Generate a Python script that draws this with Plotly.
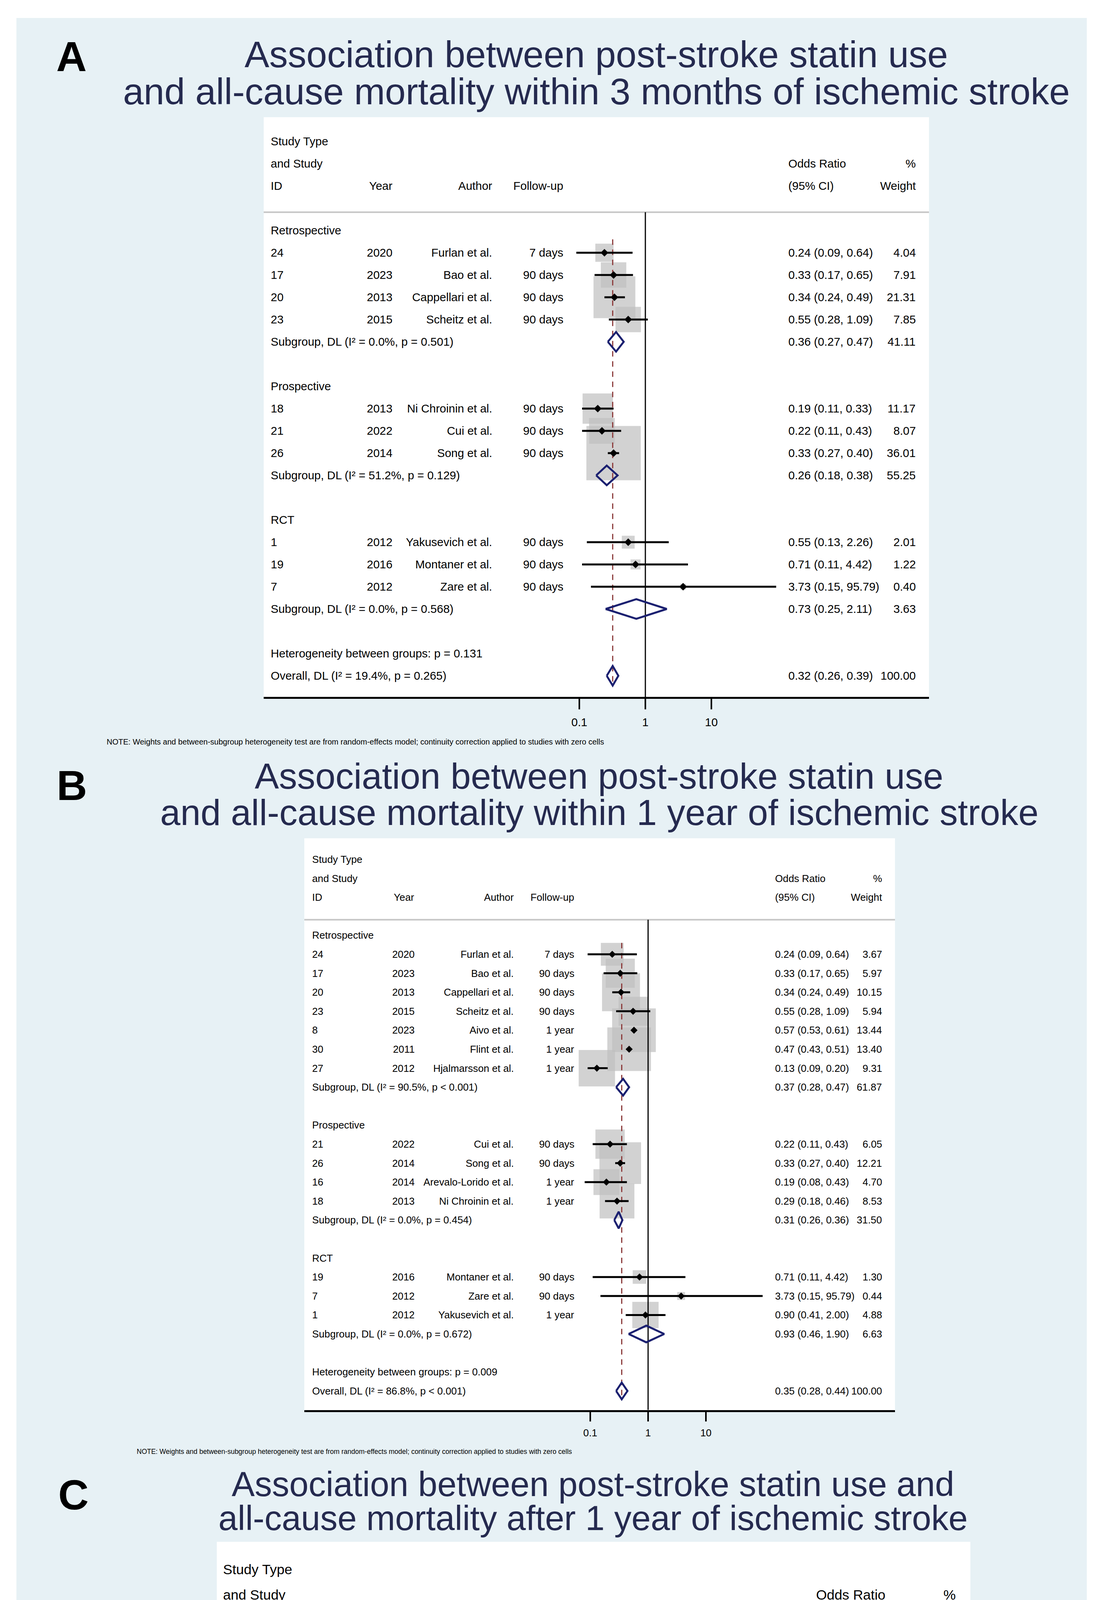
import numpy as np
import plotly.graph_objects as go

W, H = 2803, 5455

# ---------------- Panel A data ----------------
A_groups = ["Retrospective", "Prospective", "RCT"]
A_group_sizes = [4, 3, 3]
A_id = ["24", "17", "20", "23", "18", "21", "26", "1", "19", "7"]
A_year = ["2020", "2023", "2013", "2015", "2013", "2022", "2014", "2012", "2016", "2012"]
A_author = ["Furlan et al.", "Bao et al.", "Cappellari et al.", "Scheitz et al.",
            "Ni Chroinin et al.", "Cui et al.", "Song et al.",
            "Yakusevich et al.", "Montaner et al.", "Zare et al."]
A_follow = ["7 days", "90 days", "90 days", "90 days", "90 days", "90 days",
            "90 days", "90 days", "90 days", "90 days"]
A_or = [0.24, 0.33, 0.34, 0.55, 0.19, 0.22, 0.33, 0.55, 0.71, 3.73]
A_lo = [0.09, 0.17, 0.24, 0.28, 0.11, 0.11, 0.27, 0.13, 0.11, 0.15]
A_hi = [0.64, 0.65, 0.49, 1.09, 0.33, 0.43, 0.40, 2.26, 4.42, 95.79]
A_wt = [4.04, 7.91, 21.31, 7.85, 11.17, 8.07, 36.01, 2.01, 1.22, 0.40]
A_sub_label = ["Subgroup, DL (I² = 0.0%, p = 0.501)",
               "Subgroup, DL (I² = 51.2%, p = 0.129)",
               "Subgroup, DL (I² = 0.0%, p = 0.568)"]
A_sub_or = [0.36, 0.26, 0.73]
A_sub_lo = [0.27, 0.18, 0.25]
A_sub_hi = [0.47, 0.38, 2.11]
A_sub_wt = [41.11, 55.25, 3.63]
A_het = "Heterogeneity between groups: p = 0.131"
A_overall_label = "Overall, DL (I² = 19.4%, p = 0.265)"
A_overall = [0.32, 0.26, 0.39, 100.00]
A_title = ["Association between post-stroke statin use",
           "and all-cause mortality within 3 months of ischemic stroke"]
A_note = ("NOTE: Weights and between-subgroup heterogeneity test are from random-effects model; "
          "continuity correction applied to studies with zero cells")

# ---------------- Panel B data ----------------
B_groups = ["Retrospective", "Prospective", "RCT"]
B_group_sizes = [7, 4, 3]
B_id = ["24", "17", "20", "23", "8", "30", "27", "21", "26", "16", "18", "19", "7", "1"]
B_year = ["2020", "2023", "2013", "2015", "2023", "2011", "2012",
          "2022", "2014", "2014", "2013", "2016", "2012", "2012"]
B_author = ["Furlan et al.", "Bao et al.", "Cappellari et al.", "Scheitz et al.",
            "Aivo et al.", "Flint et al.", "Hjalmarsson et al.",
            "Cui et al.", "Song et al.", "Arevalo-Lorido et al.", "Ni Chroinin et al.",
            "Montaner et al.", "Zare et al.", "Yakusevich et al."]
B_follow = ["7 days", "90 days", "90 days", "90 days", "1 year", "1 year", "1 year",
            "90 days", "90 days", "1 year", "1 year", "90 days", "90 days", "1 year"]
B_or = [0.24, 0.33, 0.34, 0.55, 0.57, 0.47, 0.13, 0.22, 0.33, 0.19, 0.29, 0.71, 3.73, 0.90]
B_lo = [0.09, 0.17, 0.24, 0.28, 0.53, 0.43, 0.09, 0.11, 0.27, 0.08, 0.18, 0.11, 0.15, 0.41]
B_hi = [0.64, 0.65, 0.49, 1.09, 0.61, 0.51, 0.20, 0.43, 0.40, 0.43, 0.46, 4.42, 95.79, 2.00]
B_wt = [3.67, 5.97, 10.15, 5.94, 13.44, 13.40, 9.31, 6.05, 12.21, 4.70, 8.53, 1.30, 0.44, 4.88]
B_sub_label = ["Subgroup, DL (I² = 90.5%, p < 0.001)",
               "Subgroup, DL (I² = 0.0%, p = 0.454)",
               "Subgroup, DL (I² = 0.0%, p = 0.672)"]
B_sub_or = [0.37, 0.31, 0.93]
B_sub_lo = [0.28, 0.26, 0.46]
B_sub_hi = [0.47, 0.36, 1.90]
B_sub_wt = [61.87, 31.50, 6.63]
B_het = "Heterogeneity between groups: p = 0.009"
B_overall_label = "Overall, DL (I² = 86.8%, p < 0.001)"
B_overall = [0.35, 0.28, 0.44, 100.00]
B_title = ["Association between post-stroke statin use",
           "and all-cause mortality within 1 year of ischemic stroke"]
B_note = A_note

# ---------------- Panel C data ----------------
C_groups = ["Retrospective", "Prospective"]
C_group_sizes = [3, 5]
C_id = ["13", "15", "25", "31", "22", "21", "11", "9"]
C_year = ["2015", "2013", "2024", "2020", "2021", "2022", "2013", "2019"]
C_author = ["O'Brien et al.", "Jia & Zhou", "Winardi et al.", "Vitturi & Gagliardi",
            "Cui et al.", "Cui et al.", "Makihara et al.", "Flach et al."]
C_follow = ["2 years", "5 years", "10 years", "2 years", "2 years", "2 years",
            "4 years", "20 years"]
C_or = [0.59, 1.34, 0.88, 0.64, 0.21, 0.25, 0.45, 0.65]
C_lo = [0.57, 0.55, 0.85, 0.16, 0.09, 0.14, 0.35, 0.55]
C_hi = [0.61, 3.25, 0.91, 2.54, 0.45, 0.45, 0.60, 0.77]
C_wt = [20.15, 5.77, 20.15, 2.87, 6.67, 9.52, 16.36, 18.52]
C_sub_label = ["Subgroup, DL (I² = 99.3%, p < 0.001)",
               "Subgroup, DL (I² = 78.4%, p < 0.001)"]
C_sub_or = [0.78, 0.41]
C_sub_lo = [0.54, 0.27]
C_sub_hi = [1.12, 0.62]
C_sub_wt = [46.06, 53.94]
C_het = "Heterogeneity between groups: p = 0.025"
C_overall_label = "Overall, DL (I² = 97.9%, p < 0.001)"
C_overall = [0.56, 0.44, 0.72, 100.00]
C_title = ["Association between post-stroke statin use and",
           "all-cause mortality after 1 year of ischemic stroke"]
C_note = "NOTE: Weights and between-subgroup heterogeneity test are from random-effects model"

tick_vals = [0.1, 1, 10]
tick_text = ["0.1", "1", "10"]

# ---------------- styles / layout (pixels) ----------------
FONT = "Liberation Sans, Arial, Helvetica, sans-serif"
BG = "#e7f1f5"
BOXGRAY = "#bfbfbf"
NAVY = "#1b2070"
DASHRED = "#8c3b3b"
TITLE_C = "#252a4f"

cfgA = dict(box=(667, 2370, 292, 1776), row0=354, dy=57.0, one=1644, ppd=169, fs=29.5,
            cols=(683, 999, 1254, 1436, 2008, 2338), boxk=23.2, pt=15, lw=5, ticklen=27,
            title_y=(131, 226), title_x=1518, title_fs=95, letter=(175, 137),
            note=(263, 1891, 20))
cfgB = dict(box=(771, 2283, 2138, 3601.5), row0=2192, dy=48.6, one=1651, ppd=148, fs=25.8,
            cols=(789, 1055, 1309, 1464, 1974, 2252), boxk=30.5, pt=14, lw=5, ticklen=24,
            title_y=(1979, 2072), title_x=1526, title_fs=93, letter=(176, 2002),
            note=(340, 3708, 17.5))
cfgC = dict(box=(547, 2476, 3939, 5305), row0=4010, dy=64.8, one=1763, ppd=284.5, fs=35.5,
            cols=(561, 929, 1228, 1435, 2079, 2441), boxk=11.5, pt=13, lw=4, ticklen=25,
            title_y=(3791, 3878), title_x=1510, title_fs=88.5, letter=(180, 3818),
            note=(504, 5407, 25))

fig = go.Figure()
shapes = []
annotations = []

# page background
shapes.append(dict(type="rect", xref="paper", yref="paper", x0=34 / W, x1=2774 / W,
                   y0=1 - 5418 / H, y1=1 - 38 / H, fillcolor=BG, line=dict(width=0),
                   layer="below"))


def add_panel(k, letter, title, note, groups, sizes, ids, years, authors, follows,
              ors, los, his, wts, sub_labels, sub_or, sub_lo, sub_hi, sub_wt,
              het, ov_label, ov, cfg):
    sfx = "" if k == 1 else str(k)
    xa, ya = "x" + sfx, "y" + sfx
    x0, x1, top, bot = cfg["box"]
    row0, dy, fs = cfg["row0"], cfg["dy"], cfg["fs"]
    r_top = (top - row0) / dy
    r_bot = (bot - row0) / dy
    rule_row = 3.18

    # rows
    head_rows, study_rows, sub_rows = [], [], []
    r = 4
    for n in sizes:
        head_rows.append(r)
        study_rows += list(range(r + 1, r + 1 + n))
        sub_rows.append(r + n + 1)
        r += n + 3
    het_row, ov_row = r, r + 1

    # white panel box
    shapes.append(dict(type="rect", xref="paper", yref="paper", x0=x0 / W, x1=x1 / W,
                       y0=1 - bot / H, y1=1 - top / H, fillcolor="white",
                       line=dict(width=0), layer="below"))
    # grey rule under header
    shapes.append(dict(type="line", xref="paper", yref=ya, x0=x0 / W, x1=x1 / W,
                       y0=rule_row, y1=rule_row, line=dict(color="#c6c6c6", width=4),
                       layer="below"))

    fig.update_layout(**{
        "xaxis" + sfx: dict(type="log", domain=[x0 / W, x1 / W],
                            range=[(x0 - cfg["one"]) / cfg["ppd"], (x1 - cfg["one"]) / cfg["ppd"]],
                            anchor=ya, showgrid=False, zeroline=False, showline=True,
                            linecolor="black", linewidth=5, ticks="outside",
                            ticklen=cfg["ticklen"], tickwidth=4, tickcolor="black",
                            tickvals=tick_vals, ticktext=tick_text,
                            tickfont=dict(size=fs, color="black", family=FONT),
                            ticklabelstandoff=8, fixedrange=True),
        "yaxis" + sfx: dict(domain=[1 - bot / H, 1 - top / H], range=[r_bot, r_top],
                            anchor=xa, visible=False, fixedrange=True),
    })

    # boxes
    fig.add_trace(go.Scatter(x=ors, y=study_rows, mode="markers", xaxis=xa, yaxis=ya,
                             marker=dict(symbol="square", color=BOXGRAY,
                                         size=[cfg["boxk"] * np.sqrt(w) for w in wts],
                                         line=dict(width=0)),
                             hoverinfo="skip", showlegend=False))
    # null line
    fig.add_trace(go.Scatter(x=[1, 1], y=[rule_row, r_bot], mode="lines", xaxis=xa, yaxis=ya,
                             line=dict(color="black", width=3), hoverinfo="skip",
                             showlegend=False))
    # overall dashed line
    fig.add_trace(go.Scatter(x=[ov[0], ov[0]], y=[study_rows[0] - 0.6, ov_row + 0.45],
                             mode="lines", xaxis=xa, yaxis=ya,
                             line=dict(color=DASHRED, width=3, dash="14px,12px"),
                             hoverinfo="skip", showlegend=False))
    # CI lines
    cx, cy = [], []
    for lo, hi, rr in zip(los, his, study_rows):
        cx += [lo, hi, None]
        cy += [rr, rr, None]
    fig.add_trace(go.Scatter(x=cx, y=cy, mode="lines", xaxis=xa, yaxis=ya,
                             line=dict(color="black", width=cfg["lw"]), hoverinfo="skip",
                             showlegend=False))
    # point estimates
    fig.add_trace(go.Scatter(x=ors, y=study_rows, mode="markers", xaxis=xa, yaxis=ya,
                             marker=dict(symbol="diamond", color="black", size=cfg["pt"],
                                         line=dict(width=0)),
                             hoverinfo="skip", showlegend=False))
    # pooled diamonds
    dxs, dys = [], []
    h = 0.44
    for est, lo, hi, rr in list(zip(sub_or, sub_lo, sub_hi, sub_rows)) + [(ov[0], ov[1], ov[2], ov_row)]:
        dxs += [lo, est, hi, est, lo, None]
        dys += [rr, rr - h, rr, rr + h, rr, None]
    fig.add_trace(go.Scatter(x=dxs, y=dys, mode="lines", xaxis=xa, yaxis=ya,
                             line=dict(color=NAVY, width=cfg["lw"]), hoverinfo="skip",
                             showlegend=False))

    c_id, c_year, c_auth, c_fu, c_or, c_wt = cfg["cols"]

    def txt(s, xp, row, anchor="left", size=fs):
        annotations.append(dict(text=s, x=xp / W, y=row, xref="paper", yref=ya,
                                xanchor=anchor, yanchor="middle", showarrow=False,
                                font=dict(size=size, color="black", family=FONT)))

    # header
    txt("Study Type", c_id, 0)
    txt("and Study", c_id, 1)
    txt("Odds Ratio", c_or, 1)
    txt("%", c_wt, 1, "right")
    txt("ID", c_id, 2)
    txt("Year", c_year, 2, "right")
    txt("Author", c_auth, 2, "right")
    txt("Follow-up", c_fu, 2, "right")
    txt("(95% CI)", c_or, 2)
    txt("Weight", c_wt, 2, "right")

    for g, rr in zip(groups, head_rows):
        txt(g, c_id, rr)
    for i, rr in enumerate(study_rows):
        txt(ids[i], c_id, rr)
        txt(years[i], c_year, rr, "right")
        txt(authors[i], c_auth, rr, "right")
        txt(follows[i], c_fu, rr, "right")
        txt(f"{ors[i]:.2f} ({los[i]:.2f}, {his[i]:.2f})", c_or, rr)
        txt(f"{wts[i]:.2f}", c_wt, rr, "right")
    for j, rr in enumerate(sub_rows):
        txt(sub_labels[j], c_id, rr)
        txt(f"{sub_or[j]:.2f} ({sub_lo[j]:.2f}, {sub_hi[j]:.2f})", c_or, rr)
        txt(f"{sub_wt[j]:.2f}", c_wt, rr, "right")
    txt(het, c_id, het_row)
    txt(ov_label, c_id, ov_row)
    txt(f"{ov[0]:.2f} ({ov[1]:.2f}, {ov[2]:.2f})", c_or, ov_row)
    txt(f"{ov[3]:.2f}", c_wt, ov_row, "right")

    # titles, letter, note (paper coords)
    for line, ty in zip(title, cfg["title_y"]):
        annotations.append(dict(text=line, x=cfg["title_x"] / W, y=1 - ty / H, xref="paper",
                                yref="paper", xanchor="center", yanchor="middle",
                                showarrow=False,
                                font=dict(size=cfg["title_fs"], color=TITLE_C, family=FONT)))
    lx, lyy = cfg["letter"]
    annotations.append(dict(text=f"<b>{letter}</b>", x=lx / W, y=1 - lyy / H, xref="paper",
                            yref="paper", xanchor="center", yanchor="middle", showarrow=False,
                            font=dict(size=108, color="black", family=FONT)))
    nx, ny, nfs = cfg["note"]
    annotations.append(dict(text=note, x=nx / W, y=1 - ny / H, xref="paper", yref="paper",
                            xanchor="left", yanchor="middle", showarrow=False,
                            font=dict(size=nfs, color="black", family=FONT)))


add_panel(1, "A", A_title, A_note, A_groups, A_group_sizes, A_id, A_year, A_author, A_follow,
          A_or, A_lo, A_hi, A_wt, A_sub_label, A_sub_or, A_sub_lo, A_sub_hi, A_sub_wt,
          A_het, A_overall_label, A_overall, cfgA)
add_panel(2, "B", B_title, B_note, B_groups, B_group_sizes, B_id, B_year, B_author, B_follow,
          B_or, B_lo, B_hi, B_wt, B_sub_label, B_sub_or, B_sub_lo, B_sub_hi, B_sub_wt,
          B_het, B_overall_label, B_overall, cfgB)
add_panel(3, "C", C_title, C_note, C_groups, C_group_sizes, C_id, C_year, C_author, C_follow,
          C_or, C_lo, C_hi, C_wt, C_sub_label, C_sub_or, C_sub_lo, C_sub_hi, C_sub_wt,
          C_het, C_overall_label, C_overall, cfgC)

fig.update_layout(width=W, height=H, margin=dict(l=0, r=0, t=0, b=0, pad=0),
                  paper_bgcolor="white", plot_bgcolor="rgba(0,0,0,0)",
                  font=dict(family=FONT, color="black"),
                  shapes=shapes, annotations=annotations, showlegend=False,
                  hovermode=False)

fig.write_html("out.html", config={"displayModeBar": False})
